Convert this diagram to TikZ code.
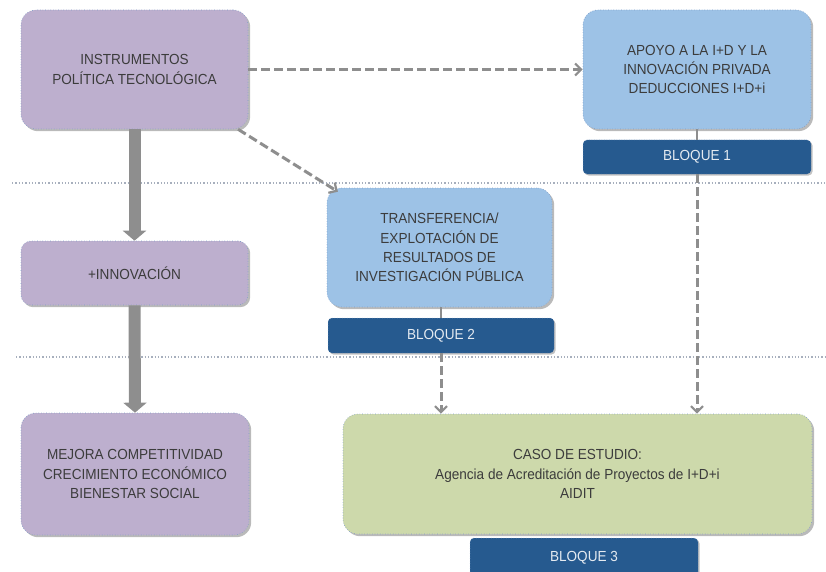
\documentclass[tikz,border=0pt]{standalone}
\usepackage{fontspec}
\setmainfont{Liberation Sans}[FakeStretch=0.93]
\usetikzlibrary{arrows.meta,shadows,calc}
\definecolor{lila}{HTML}{BDAFCE}
\definecolor{celeste}{HTML}{9DC2E6}
\definecolor{azul}{HTML}{265A8F}
\definecolor{verde}{HTML}{CDD9AB}
\definecolor{borde}{HTML}{7E9CC6}
\definecolor{texto}{HTML}{3C3C3C}
\definecolor{flecha}{HTML}{8E8E8E}
\definecolor{sep}{HTML}{A7AFBD}
\begin{document}
\begin{tikzpicture}[x=1pt,y=-1pt,
  caja/.style={rounded corners=15pt, draw=borde, dotted, line width=0.6pt,
    align=center, text=texto, font=\fontsize{14.6}{19.2}\selectfont,
    inner sep=0pt, minimum width=#1,
    drop shadow={shadow xshift=2.2pt, shadow yshift=-2.2pt, fill=black!60, opacity=0.45}},
  bloque/.style={rounded corners=4pt, fill=azul, draw=borde, dotted, line width=0.5pt,
    text=white!88!azul, font=\fontsize{14.6}{17}\selectfont, inner sep=0pt,
    drop shadow={shadow xshift=1.5pt, shadow yshift=-1.5pt, fill=black!60, opacity=0.4}},
  trazo/.style={draw=flecha, line width=3pt, dash pattern=on 9pt off 4pt,
    -{Straight Barb[length=6pt,width=12pt,line width=2.2pt]}},
  grueso/.style={draw=flecha, line width=12pt, -{Triangle[length=10pt,width=23pt]}},
  union/.style={draw=flecha, line width=2.5pt},
  separador/.style={draw=sep, line width=1.3pt, dotted}]
\useasboundingbox (0,0) rectangle (826,572);

% separadores horizontales
\coordinate (s1a) at (12,183);
\coordinate (s1b) at (826,183);
\coordinate (s2a) at (16,357);
\coordinate (s2b) at (826,357);
\draw[separador] (s1a) -- (s1b);
\draw[separador] (s2a) -- (s2b);

% columna izquierda
\node[caja, fill=lila, minimum width=227pt, minimum height=119pt] (ins) at (134.5,69.5)
  {INSTRUMENTOS\\POLÍTICA TECNOLÓGICA};
\node[caja, fill=lila, minimum width=227pt, minimum height=64pt, rounded corners=10pt] (inno) at (134.5,273)
  {+INNOVACIÓN};
\node[caja, fill=lila, minimum width=228pt, minimum height=122pt] (mej) at (135,474)
  {MEJORA COMPETITIVIDAD\\CRECIMIENTO ECONÓMICO\\BIENESTAR SOCIAL};

% bloques
\node[caja, fill=celeste, minimum width=228pt, minimum height=119pt] (apoyo) at (697,69.5)
  {APOYO A LA I+D Y LA\\INNOVACIÓN PRIVADA\\DEDUCCIONES I+D+i};
\node[bloque, minimum width=228pt, minimum height=34pt] (b1) at (697,157) {BLOQUE 1};

\node[caja, fill=celeste, minimum width=225pt, minimum height=119pt] (trans) at (439.5,247.5)
  {TRANSFERENCIA/\\EXPLOTACIÓN DE\\RESULTADOS DE\\INVESTIGACIÓN PÚBLICA};
\node[bloque, minimum width=226pt, minimum height=35pt] (b2) at (441,335.5) {BLOQUE 2};

\node[caja, fill=verde, minimum width=469pt, minimum height=120pt] (caso) at (577.5,474)
  {CASO DE ESTUDIO:\\Agencia de Acreditación de Proyectos de I+D+i\\AIDIT};
\node[bloque, minimum width=228pt, minimum height=40pt] (b3) at (584,558) {BLOQUE 3};

% conectores
\draw[grueso] (ins.south) -- (inno.north);
\draw[grueso] (inno.south) -- (mej.north);
\draw[trazo] (ins.east) -- (apoyo.west);
\draw[trazo] (ins.-30) -- ($(trans.150)+(2,4)$);
\draw[union] (apoyo.south) -- (b1.north);
\draw[union] (trans.south -| b2) -- (b2.north);
\draw[trazo] (b1.south) -- (caso.north -| b1);
\draw[trazo] (b2.south) -- (caso.north -| b2);
\end{tikzpicture}
\end{document}
